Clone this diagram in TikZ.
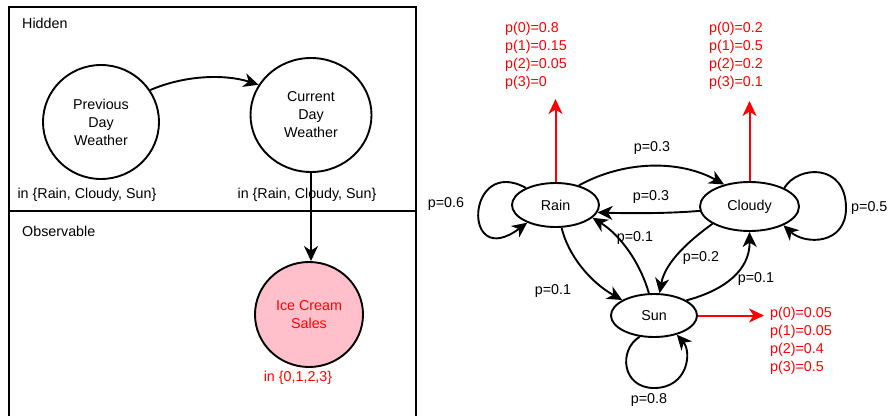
\documentclass[tikz,border=0pt]{standalone}
\usepackage{fontspec}
\setmainfont{Liberation Sans}
\usetikzlibrary{arrows.meta,shapes.geometric}
\definecolor{myred}{RGB}{255,0,0}
\definecolor{mypink}{RGB}{255,192,203}
\begin{document}
\begin{tikzpicture}[x=1pt,y=-1pt,
  every node/.style={font=\fontsize{14.3}{18}\selectfont, inner sep=0pt},
  state/.style={ellipse, draw, line width=1.9pt},
  arr/.style={-{Stealth[length=15pt,width=14pt,inset=4.5pt]}, line width=1.9pt},
  redarr/.style={-{Stealth[length=15pt,width=14pt,inset=4.5pt]}, line width=2pt, color=myred},
  frame/.style={line width=1.9pt},
  emit/.style={text=myred, align=left, anchor=west}]
\useasboundingbox (0,0) rectangle (888,415);

% left panel frame
\draw[frame] (9,425) -- (9,7) -- (416,7) -- (416,425);
\draw[frame] (9,211) -- (416,211);
\node[anchor=west] (hid) at (22,23) {Hidden};
\node[anchor=west] (obs) at (22,231) {Observable};

\node[state, minimum width=116pt, minimum height=114pt, align=center] (prev) at (101,122) {Previous\\Day\\Weather};
\node[state, minimum width=121pt, minimum height=114pt, align=center] (cur) at (311,115) {Current\\Day\\Weather};
\node[state, fill=mypink, text=myred, minimum width=108pt, minimum height=105pt, align=center] (ice) at (309,314.5) {Ice Cream\\Sales};
\node (prevdom) at (87,195) {in \{Rain, Cloudy, Sun\}};
\node (curdom) at (307,194.5) {in \{Rain, Cloudy, Sun\}};
\node[text=myred] (icedom) at (298,378) {in \{0,1,2,3\}};

\draw[arr] (prev.33) .. controls (185,75) and (225,74) .. (cur.150);
\draw[arr] (cur.south) -- (cur.south |- ice.north);

% right panel
\node[state, minimum width=87pt, minimum height=44pt] (rain) at (555.5,205) {Rain};
\node[state, minimum width=99pt, minimum height=49pt] (cloudy) at (749.5,206.5) {Cloudy};
\node[state, minimum width=86pt, minimum height=43pt] (sun) at (654,315.5) {Sun};

\node[emit] (rainem) at (505,55.5) {p(0)=0.8\\p(1)=0.15\\p(2)=0.05\\p(3)=0};
\node[emit] (cloudyem) at (709,55.5) {p(0)=0.2\\p(1)=0.5\\p(2)=0.2\\p(3)=0.1};
\node[emit] (sunem) at (770,341) {p(0)=0.05\\p(1)=0.05\\p(2)=0.4\\p(3)=0.5};
\coordinate (rainup) at (555.5,99);
\coordinate (cloudyup) at (749.5,101);
\coordinate (sunout) at (764,315.5);
\draw[redarr] (rain.north) -- (rainup);
\draw[redarr] (cloudy.north) -- (cloudyup);
\draw[redarr] (sun.east) -- (sunout);

% transitions
\draw[arr] (rain.40) .. controls (625,160) and (680,160) .. (cloudy.139.5);
\draw[arr] (cloudy.185) .. controls (670,213.5) and (630,213.5) .. (rain.350);
\draw[arr] (rain.150) .. controls (466,155) and (461,272) .. (rain.212);
\draw[arr] (cloudy.28) .. controls (798,165) and (846,163) .. (846,208) .. controls (846,245) and (805,245) .. (cloudy.331);
\draw[arr] (sun.236) .. controls (618,350) and (622,388) .. (654,388) .. controls (688,388) and (692,352) .. (sun.320);
\draw[arr] (rain.285) .. controls (568,255) and (590,282) .. (sun.154);
\draw[arr] (sun.103) .. controls (640,262) and (620,235) .. (rain.341);
\draw[arr] (cloudy.205) .. controls (690,240) and (665,262) .. (sun.76);
\draw[arr] (sun.25) .. controls (725,290) and (750,270) .. (cloudy.south);

\node (lrc) at (652,148) {p=0.3};
\node (lcr) at (651,197) {p=0.3};
\node (lrr) at (446,204) {p=0.6};
\node[anchor=west] (lcc) at (851,208) {p=0.5};
\node (lss) at (649,400) {p=0.8};
\node (lrs) at (553,291) {p=0.1};
\node (lsr) at (635,238) {p=0.1};
\node (lcs) at (701,258) {p=0.2};
\node (lsc) at (756,279) {p=0.1};
\end{tikzpicture}
\end{document}
